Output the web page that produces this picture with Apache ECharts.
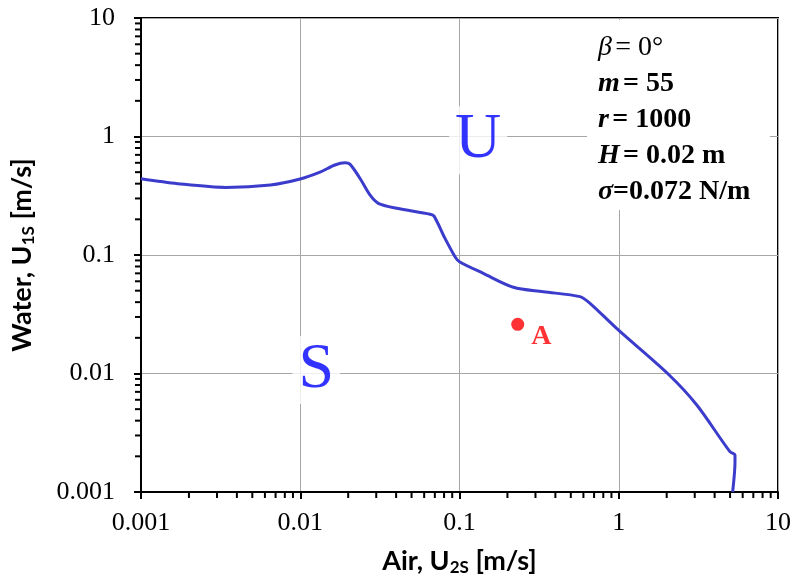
<!DOCTYPE html>
<html>
<head>
<meta charset="utf-8">
<script src="https://cdn.jsdelivr.net/npm/echarts@6/dist/echarts.min.js"></script>
<style>
  html, body { margin: 0; padding: 0; background: #fff; }
  #chart { width: 794px; height: 583px; }
</style>
</head>
<body>
<div id="chart"></div>
<script>
(function () {
  // stability boundary
  var airU = [0.001, 0.0017, 0.0034, 0.0065, 0.01, 0.0133, 0.0165, 0.0191, 0.0205, 0.0237,
    0.0274, 0.0309, 0.0403, 0.0653, 0.0692, 0.0811, 0.0937, 0.1, 0.141, 0.218,
    0.336, 0.571, 0.66, 0.993, 2.05, 3.09, 4.99, 5.37, 5.37, 5.19];
  var waterU = [0.44, 0.40, 0.372, 0.39, 0.438, 0.50, 0.575, 0.60, 0.585, 0.444,
    0.321, 0.273, 0.248, 0.221, 0.213, 0.138, 0.0968, 0.0878, 0.070, 0.0534,
    0.049, 0.0445, 0.0391, 0.0233, 0.00985, 0.00542, 0.00219, 0.00205, 0.0018, 0.001];

  // point A
  var pointA = [0.232, 0.026];

  // region labels: [air, water, text]
  var regionLabels = [[0.131, 0.93, 'U'], [0.0126, 0.0107, 'S']];

  var tickLabels = { '0.001': '0.001', '0.01': '0.01', '0.1': '0.1', '1': '1', '10': '10' };
  var decades = [0.001, 0.01, 0.1, 1];
  var minorSteps = [2, 3, 4, 5, 6, 7, 8, 9];

  var serif = '"Liberation Serif", "Times New Roman", serif';
  var sans = 'Lato, "Open Sans", sans-serif';
  var curveColor = '#3b3bcc';

  function fmt(v) {
    var key = String(+v.toPrecision(3));
    return tickLabels[key] !== undefined ? tickLabels[key] : '';
  }

  // minor tick positions (2..9 per decade), flag 0 = x axis, 1 = y axis
  var minorData = [];
  decades.forEach(function (d) {
    minorSteps.forEach(function (k) {
      var v = +(k * d).toPrecision(3);
      minorData.push([v, 0.001, 0]);
      minorData.push([0.001, v, 1]);
    });
  });

  var nameRich = {
    n: { fontFamily: sans, fontSize: 27, fontWeight: 'bold', color: '#000' },
    s: { fontFamily: sans, fontSize: 17, fontWeight: 'bold', color: '#000', padding: [12, 0, 0, 0] }
  };

  var chart = echarts.init(document.getElementById('chart'), null, { renderer: 'canvas' });

  chart.setOption({
    animation: false,
    backgroundColor: '#fff',
    grid: {
      left: 141, right: 16, top: 18, bottom: 91,
      show: true, borderColor: '#000', borderWidth: 2
    },
    xAxis: {
      type: 'log',
      logBase: 10,
      min: 0.001,
      max: 10,
      name: '{n|Air, U}{s|2S}{n| [m/s]}',
      nameLocation: 'middle',
      nameGap: 55,
      nameTextStyle: { rich: nameRich },
      axisLine: { onZero: false, lineStyle: { color: '#000', width: 2 } },
      axisTick: { inside: false, length: 7, lineStyle: { color: '#000', width: 2 } },
      axisLabel: {
        color: '#000', fontFamily: serif, fontSize: 26, margin: 18,
        formatter: fmt
      },
      splitLine: { show: true, lineStyle: { color: '#a6a6a6', width: 1 } },
      minorTick: { show: false }
    },
    yAxis: {
      type: 'log',
      logBase: 10,
      min: 0.001,
      max: 10,
      name: '{n|Water, U}{s|1S}{n| [m/s]}',
      nameLocation: 'middle',
      nameGap: 104,
      nameRotate: 90,
      nameTextStyle: { rich: nameRich },
      axisLine: { onZero: false, lineStyle: { color: '#000', width: 2 } },
      axisTick: { inside: false, length: 7, lineStyle: { color: '#000', width: 2 } },
      axisLabel: {
        color: '#000', fontFamily: serif, fontSize: 26, margin: 26,
        formatter: fmt
      },
      splitLine: { show: true, lineStyle: { color: '#a6a6a6', width: 1 } }
    },
    graphic: [
      {
        type: 'rect',
        shape: { x: 587, y: 20, width: 183, height: 190 },
        style: { fill: '#fff' },
        z: 50
      },
      {
        type: 'text',
        x: 598,
        y: 30,
        z: 51,
        style: {
          text: '{iv|\u03b2} {n|= 0\u00b0}\n{ib|m} {b|= 55}\n{ib|r} {b|= 1000}\n{ib|H} {b|= 0.02 m}\n{ib|\u03c3}{b|=0.072 N/m}',
          rich: {
            iv: { fontFamily: serif, fontSize: 28, fontStyle: 'italic', fill: '#000', lineHeight: 36 },
            n: { fontFamily: serif, fontSize: 28, fill: '#000', lineHeight: 36 },
            ib: { fontFamily: serif, fontSize: 28, fontStyle: 'italic', fontWeight: 'bold', fill: '#000', lineHeight: 36 },
            b: { fontFamily: serif, fontSize: 28, fontWeight: 'bold', fill: '#000', lineHeight: 36 }
          }
        }
      }
    ],
    series: [
      {
        name: 'boundary',
        type: 'line',
        data: airU.map(function (x, i) { return [x, waterU[i]]; }),
        showSymbol: false,
        smooth: 0.3,
        lineStyle: { color: curveColor, width: 3 },
        z: 3
      },
      {
        name: 'A',
        type: 'scatter',
        data: [pointA],
        symbolSize: 13,
        itemStyle: { color: '#ff0000' },
        label: {
          show: true,
          position: 'right',
          offset: [2, 12],
          formatter: 'A',
          color: '#ff0000',
          fontFamily: serif,
          fontWeight: 'bold',
          fontSize: 28
        },
        z: 4
      },
      {
        name: 'regions',
        type: 'scatter',
        data: regionLabels.map(function (r) { return [r[0], r[1]]; }),
        symbolSize: 0,
        label: {
          show: true,
          position: 'inside',
          formatter: function (p) { return regionLabels[p.dataIndex][2]; },
          color: '#0000ff',
          fontFamily: serif,
          fontSize: 64,
          backgroundColor: '#fff',
          padding: [4, 6, 0, 6]
        },
        z: 5
      },
      {
        name: 'minorTicks',
        type: 'custom',
        clip: false,
        silent: true,
        data: minorData,
        renderItem: function (params, api) {
          var p = api.coord([api.value(0), api.value(1)]);
          var isY = api.value(2) === 1;
          return {
            type: 'line',
            shape: isY
              ? { x1: p[0] - 6, y1: p[1], x2: p[0], y2: p[1] }
              : { x1: p[0], y1: p[1], x2: p[0], y2: p[1] + 6 },
            style: { stroke: '#000', lineWidth: 2 }
          };
        },
        z: 6
      }
    ]
  });
})();
</script>
</body>
</html>
